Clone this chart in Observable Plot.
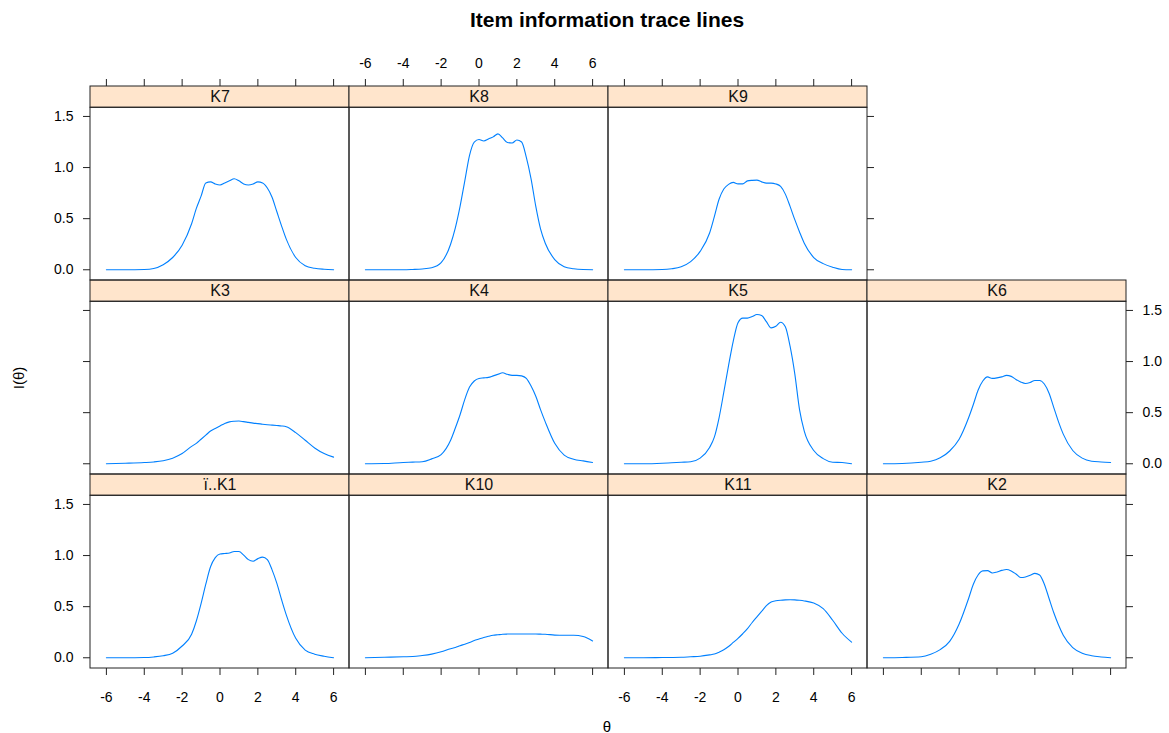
<!DOCTYPE html>
<html><head><meta charset="utf-8">
<script src="https://cdn.jsdelivr.net/npm/d3@7"></script>
<script src="https://cdn.jsdelivr.net/npm/@observablehq/plot@0.6"></script>
<style>
body{margin:0;background:#fff;font-family:"Liberation Sans",Arial,sans-serif;}
#wrap{position:relative;width:1169px;height:733px;overflow:hidden;}
#chart{position:absolute;left:0;top:0;}
#title{position:absolute;top:8px;left:607px;transform:translateX(-50%);white-space:nowrap;font-weight:bold;font-size:21px;color:#000;}
#ylab{position:absolute;left:18px;top:378px;transform:translate(-50%,-50%) rotate(-90deg);font-size:15px;white-space:nowrap;}
#xlab{position:absolute;left:607px;top:726px;transform:translate(-50%,-50%);font-size:15px;}
</style></head>
<body><div id="wrap"><div id="chart"></div><div id="title">Item information trace lines</div><div id="ylab">I(θ)</div><div id="xlab">θ</div></div>
<script>
// ---- data ----
const theta = [-6,-5,-4,-3.5,-3,-2.5,-2,-1.5,-1.25,-1,-0.75,-0.5,-0.25,0,0.25,0.5,0.75,1,1.25,1.5,1.75,2,2.25,2.5,2.75,3,3.25,3.5,4,4.5,5,5.5,6];
const K1  = [0,0,0.002,0.008,0.02,0.045,0.115,0.23,0.36,0.53,0.72,0.89,0.98,1.015,1.02,1.025,1.04,1.04,1.005,0.96,0.945,0.97,0.985,0.96,0.86,0.73,0.57,0.42,0.19,0.075,0.035,0.015,0];
const K10 = [0,0.005,0.01,0.012,0.022,0.036,0.058,0.088,0.1,0.118,0.133,0.15,0.168,0.183,0.198,0.21,0.22,0.225,0.23,0.232,0.233,0.233,0.233,0.233,0.232,0.232,0.231,0.23,0.222,0.22,0.22,0.208,0.165];
const K11 = [0,0,0.002,0.003,0.005,0.01,0.015,0.028,0.036,0.055,0.078,0.11,0.15,0.19,0.235,0.285,0.345,0.4,0.455,0.51,0.545,0.557,0.563,0.566,0.567,0.566,0.562,0.556,0.535,0.48,0.367,0.24,0.153];
const K2  = [0,0.003,0.01,0.035,0.08,0.16,0.33,0.58,0.72,0.81,0.85,0.853,0.83,0.84,0.855,0.864,0.85,0.82,0.785,0.79,0.807,0.826,0.81,0.72,0.58,0.44,0.32,0.22,0.1,0.045,0.02,0.008,0];
const K3  = [0,0.005,0.012,0.018,0.03,0.055,0.1,0.17,0.2,0.24,0.28,0.32,0.345,0.37,0.395,0.41,0.416,0.418,0.412,0.405,0.398,0.393,0.387,0.382,0.378,0.374,0.37,0.362,0.305,0.23,0.155,0.1,0.065];
const K4  = [0,0.002,0.013,0.016,0.02,0.048,0.09,0.23,0.35,0.48,0.63,0.75,0.81,0.835,0.84,0.845,0.86,0.875,0.89,0.875,0.865,0.865,0.86,0.835,0.76,0.66,0.53,0.41,0.2,0.085,0.045,0.028,0.013];
const K5  = [0,0,0.005,0.01,0.015,0.02,0.055,0.16,0.26,0.45,0.7,0.96,1.2,1.38,1.425,1.425,1.44,1.46,1.45,1.39,1.33,1.345,1.385,1.34,1.15,0.88,0.53,0.32,0.13,0.05,0.015,0.012,0];
const K6  = [0,0.003,0.015,0.025,0.058,0.125,0.24,0.45,0.58,0.72,0.81,0.85,0.835,0.84,0.85,0.865,0.855,0.825,0.8,0.785,0.795,0.815,0.815,0.78,0.69,0.55,0.41,0.29,0.13,0.055,0.025,0.018,0.013];
const K7  = [0,0,0.003,0.013,0.05,0.12,0.24,0.45,0.6,0.72,0.85,0.86,0.84,0.83,0.85,0.87,0.89,0.87,0.84,0.83,0.84,0.86,0.85,0.8,0.71,0.57,0.43,0.3,0.12,0.04,0.015,0.005,0];
const K8  = [0,0,0,0.003,0.008,0.02,0.07,0.25,0.41,0.62,0.87,1.12,1.25,1.275,1.26,1.28,1.3,1.33,1.29,1.245,1.24,1.27,1.25,1.1,0.89,0.62,0.4,0.26,0.1,0.03,0.01,0.002,0];
const K9  = [0,0,0.002,0.01,0.03,0.08,0.18,0.36,0.52,0.69,0.79,0.835,0.855,0.84,0.84,0.87,0.875,0.877,0.86,0.848,0.848,0.84,0.815,0.74,0.62,0.49,0.37,0.26,0.12,0.06,0.025,0.003,0];

const itemNames  = ["ï..K1","K10","K11","K2","K3","K4","K5","K6","K7","K8","K9"];
const itemValues = [K1, K10, K11, K2, K3, K4, K5, K6, K7, K8, K9];
// lattice layout: panels fill bottom row first, left to right
const panelCol = [0,1,2,3,0,1,2,3,0,1,2];
const panelRow = [2,2,2,2,1,1,1,1,0,0,0];

const xTicks = [-6,-4,-2,0,2,4,6];
const yTicks = [0,0.5,1,1.5];

// ---- scales ----
const XD = [-6.84, 6.84];
const Y0 = -0.105, Y1 = 1.585, YT = 1.793; // panel bottom, panel top, strip top
const W = 1169, H = 733, ML = 89, MR = 42, MT = 85, MB = 65;
const colW = (W - ML - MR) / 4, rowH = (H - MT - MB) / 3;
const tickPx = 7;
const tLenY = tickPx * (YT - Y0) / rowH;
const tLenX = tickPx * (XD[1] - XD[0]) / colW;

const panels = itemNames.map((name, i) => ({name, col: panelCol[i], row: panelRow[i]}));
const lines = itemNames.flatMap((name, i) => theta.map((t, j) => ({name, col: panelCol[i], row: panelRow[i], t, v: itemValues[i][j]})));

// axes: which panels carry ticks / labels
const bottomTicks = [0,1,2,3].flatMap(c => xTicks.map(v => ({col: c, row: 2, v, lab: c % 2 === 0})));
const topTicks = [0,1,2].flatMap(c => xTicks.map(v => ({col: c, row: 0, v, lab: c === 1})));
const leftTicks = [0,1,2].flatMap(r => yTicks.map(v => ({col: 0, row: r, v, lab: r !== 1})));
const rightTicks = [{r:0,c:2},{r:1,c:3},{r:2,c:3}].flatMap(o => yTicks.map(v => ({col: o.c, row: o.r, v, lab: o.r === 1})));

const ink = "#222";
const chart = Plot.plot({
  width: W, height: H, marginLeft: ML, marginRight: MR, marginTop: MT, marginBottom: MB,
  x: {domain: XD, axis: null},
  y: {domain: [Y0, YT], axis: null},
  fx: {domain: [0,1,2,3], axis: null, padding: 0},
  fy: {domain: [0,1,2], axis: null, padding: 0},
  style: {fontFamily: "'Liberation Sans', Arial, sans-serif", fontSize: "14px", background: "white", overflow: "visible"},
  marks: [
    // strips
    Plot.rect(panels, {fx: "col", fy: "row", x1: () => XD[0], x2: () => XD[1], y1: () => Y1, y2: () => YT, fill: "#ffe5cc", stroke: ink, strokeWidth: 1}),
    Plot.text(panels, {fx: "col", fy: "row", text: "name", x: () => (XD[0] + XD[1]) / 2, y: () => (Y1 + YT) / 2, lineAnchor: "middle", fontSize: 16, fill: "#111"}),
    // curves
    Plot.line(lines, {fx: "col", fy: "row", x: "t", y: "v", stroke: "#0080ff", strokeWidth: 1.1, curve: "monotone-x"}),
    // panel borders
    Plot.rect(panels, {fx: "col", fy: "row", x1: () => XD[0], x2: () => XD[1], y1: () => Y0, y2: () => Y1, fill: "none", stroke: ink, strokeWidth: 1}),
    // bottom axis
    Plot.ruleX(bottomTicks, {fx: "col", fy: "row", x: "v", y1: () => Y0, y2: () => Y0 - tLenY, stroke: ink}),
    Plot.text(bottomTicks.filter(d => d.lab), {fx: "col", fy: "row", x: "v", y: () => Y0, dy: 29, text: d => String(d.v), fill: "#000"}),
    // top axis
    Plot.ruleX(topTicks, {fx: "col", fy: "row", x: "v", y1: () => YT, y2: () => YT + tLenY, stroke: ink}),
    Plot.text(topTicks.filter(d => d.lab), {fx: "col", fy: "row", x: "v", y: () => YT, dy: -23, text: d => String(d.v), fill: "#000"}),
    // left axis
    Plot.ruleY(leftTicks, {fx: "col", fy: "row", y: "v", x1: () => XD[0], x2: () => XD[0] - tLenX, stroke: ink}),
    Plot.text(leftTicks.filter(d => d.lab), {fx: "col", fy: "row", y: "v", x: () => XD[0], dx: -17, textAnchor: "end", text: d => d.v.toFixed(1), fill: "#000"}),
    // right axis
    Plot.ruleY(rightTicks, {fx: "col", fy: "row", y: "v", x1: () => XD[1], x2: () => XD[1] + tLenX, stroke: ink}),
    Plot.text(rightTicks.filter(d => d.lab), {fx: "col", fy: "row", y: "v", x: () => XD[1], dx: 16, textAnchor: "start", text: d => d.v.toFixed(1), fill: "#000"})
  ]
});
document.getElementById("chart").appendChild(chart);
</script>
</body></html>
